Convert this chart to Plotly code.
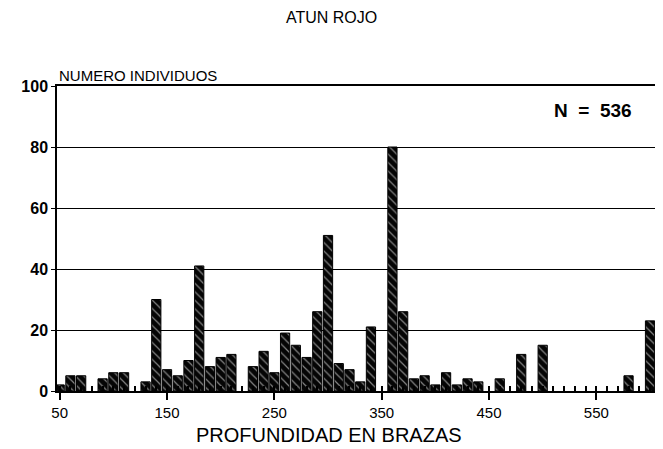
import plotly.graph_objects as go

# Depth bins (brazas) and counts of individuals
depths = [50, 60, 70, 90, 100, 110, 130, 140, 150, 160, 170, 180, 190, 200, 210,
          230, 240, 250, 260, 270, 280, 290, 300, 310, 320, 330, 340, 360, 370,
          380, 390, 400, 410, 420, 430, 440, 460, 480, 500, 580, 600]
counts = [2, 5, 5, 4, 6, 6, 3, 30, 7, 5, 10, 41, 8, 11, 12,
          8, 13, 6, 19, 15, 11, 26, 51, 9, 7, 3, 21, 80, 26,
          4, 5, 2, 6, 2, 4, 3, 4, 12, 15, 5, 23]

y_ticks = [0, 20, 40, 60, 80, 100]

FONT = "Liberation Sans, Arial, sans-serif"

# The page body has an 8px margin, so the figure is sized/offset to compensate
fig = go.Figure()
fig.add_trace(go.Bar(
    x=depths, y=counts,
    width=8.6,
    marker=dict(
        color="#050505",
        line=dict(color="black", width=1),
        pattern=dict(shape="\\", fgcolor="#ffffff", bgcolor="#050505",
                     size=6, solidity=0.2),
    ),
    hoverinfo="x+y",
))

fig.update_layout(
    width=655, height=441,
    margin=dict(l=49, r=6, t=78, b=58, autoexpand=False),
    paper_bgcolor="white", plot_bgcolor="white",
    showlegend=False,
    font=dict(family=FONT, color="black"),
    xaxis=dict(
        range=[47.5, 606.5], automargin=False,
        tickmode="linear", tick0=50, dtick=100,
        ticks="outside", ticklen=7, tickwidth=1.5, tickcolor="black",
        minor=dict(dtick=10, tick0=50, ticks="inside", ticklen=5,
                   tickwidth=1.5, tickcolor="black", showgrid=False),
        showline=True, linecolor="black", linewidth=2, mirror=True,
        showgrid=False, zeroline=False,
        tickfont=dict(size=15, family=FONT, color="black"),
    ),
    yaxis=dict(
        range=[0, 100], automargin=False,
        tickmode="array", tickvals=y_ticks,
        ticktext=["<b>%d</b>" % v for v in y_ticks],
        ticks="outside", ticklen=4, tickwidth=1.2, tickcolor="black",
        showline=True, linecolor="black", linewidth=1.5, mirror=True,
        showgrid=True, gridcolor="black", gridwidth=1.3,
        zeroline=False,
        tickfont=dict(size=16, family=FONT, color="black"),
    ),
    bargap=0.1,
    annotations=[
        dict(text="ATUN ROJO", xref="paper", yref="paper",
             x=0.457, y=1.223, xanchor="center", yanchor="middle",
             showarrow=False, font=dict(size=16, family=FONT, color="black")),
        dict(text="NUMERO INDIVIDUOS", xref="paper", yref="paper",
             x=0.0, y=1.036, xanchor="left", yanchor="middle",
             showarrow=False, font=dict(size=15, family=FONT, color="black")),
        dict(text="<b>N&nbsp; =&nbsp; 536</b>", xref="paper", yref="paper",
             x=0.962, y=0.921, xanchor="right", yanchor="middle",
             showarrow=False, font=dict(size=19, family=FONT, color="black")),
        dict(text="PROFUNDIDAD EN BRAZAS", xref="paper", yref="paper",
             x=0.454, y=-0.144, xanchor="center", yanchor="middle",
             showarrow=False, font=dict(size=20, family=FONT, color="black")),
    ],
)

fig.write_html("out.html")
